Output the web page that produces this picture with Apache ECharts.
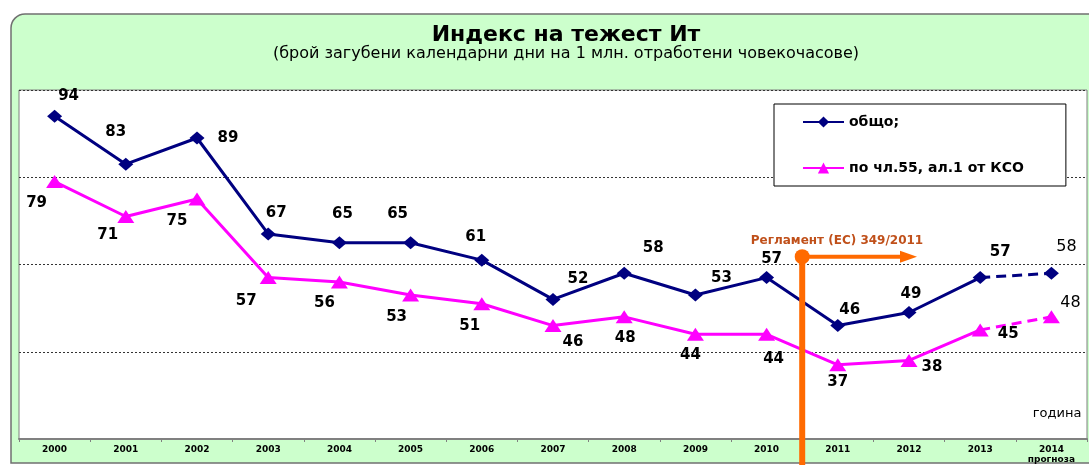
<!DOCTYPE html>
<html>
<head>
<meta charset="utf-8">
<script src="https://cdn.jsdelivr.net/npm/echarts@6/dist/echarts.min.js"></script>
<style>
  html, body { margin: 0; padding: 0; background: #fff; }
  #chart { width: 1089px; height: 465px; }
</style>
</head>
<body>
<div id="chart"></div>
<script>
// години
const years = ['2000', '2001', '2002', '2003', '2004', '2005', '2006', '2007',
  '2008', '2009', '2010', '2011', '2012', '2013', '2014']
const forecastNote = 'прогноза'
// общо
const totalValues = [94, 83, 89, 67, 65, 65, 61, 52, 58, 53, 57, 46, 49, 57, 58]
// по чл.55, ал.1 от КСО
const art55Values = [79, 71, 75, 57, 56, 53, 51, 46, 48, 44, 44, 37, 38, 45, 48]
const yTicks = [20, 40, 60, 80, 100]
const noteText = 'Регламент (ЕС) 349/2011'
const yearLabel = 'година'

// къде стоят етикетите спрямо точката (само стил)
const totalLabelOffsets = [[14, -20], [-10, -32], [31, 0], [8, -21], [3, -29], [-13, -29], [-6, -23],
  [25, -20], [29, -25], [26, -17], [5, -18], [12, -15], [2, -18], [20, -25], [15, -26]]
const art55LabelOffsets = [[-18, 21], [-18, 19], [-20, 22], [-22, 24], [-15, 21], [-14, 22], [-12, 22],
  [20, 17], [1, 21], [-5, 21], [7, 25], [0, 17], [23, 7], [28, 4], [19, -14]]

const lastIdx = years.length - 1
const font = 'DejaVu Sans, Liberation Sans, Arial, sans-serif'

// плътна част (2000-2013) и пунктир (2013-2014)
function solidPart(values, offsets) {
  return values.map((v, i) => i === lastIdx ? '-' : { value: v, label: { offset: offsets[i] } })
}
function dashedPart(values, offsets) {
  return values.map((v, i) => {
    if (i === lastIdx) return { value: v, label: { show: true, offset: offsets[i] } }
    if (i === lastIdx - 1) return { value: v, symbol: 'none', label: { show: false } }
    return '-'
  })
}

const boldLabel = {
  show: true,
  position: 'inside',
  color: '#000',
  fontFamily: font,
  fontWeight: 'bold',
  fontSize: 15
}
const plainLabel = Object.assign({}, boldLabel, { fontWeight: 'normal', fontSize: 16, show: false })

const navy = '#000080'
const pink = '#FF00FF'
const orange = '#FF6A00'

const myChart = echarts.init(document.getElementById('chart'))
const option = {
  animation: false,
  backgroundColor: '#fff',
  textStyle: { fontFamily: font },
  title: {
    text: 'Индекс на тежест Ит',
    subtext: '(брой загубени календарни дни на 1 млн. отработени човекочасове)',
    left: 561,
    textAlign: 'center',
    top: 19,
    itemGap: 0,
    textStyle: { fontSize: 22, fontWeight: 'bold', color: '#000', fontFamily: font },
    subtextStyle: { fontSize: 16, color: '#000', fontFamily: font }
  },
  legend: {
    data: ['общо;', 'по чл.55, ал.1 от КСО'],
    orient: 'vertical',
    left: 774,
    top: 104,
    padding: [11, 42, 11, 28],
    itemGap: 32,
    itemWidth: 41,
    itemHeight: 14,
    backgroundColor: '#fff',
    borderColor: '#000',
    borderWidth: 1,
    borderRadius: 0,
    textStyle: { fontSize: 14, fontWeight: 'bold', color: '#000', fontFamily: font }
  },
  grid: {
    left: 19,
    top: 90,
    right: 2,
    bottom: 25,
    show: true,
    backgroundColor: '#fff',
    borderColor: '#808080',
    borderWidth: 1
  },
  xAxis: {
    type: 'category',
    data: years,
    boundaryGap: true,
    axisLine: { lineStyle: { color: '#808080', width: 2 } },
    axisTick: { show: true, length: 3, lineStyle: { color: '#808080' } },
    axisLabel: {
      color: '#000',
      fontSize: 9,
      fontWeight: 'bold',
      fontFamily: font,
      margin: 6,
      lineHeight: 10,
      formatter: (v, i) => i === lastIdx ? v + '\n' + forecastNote : v
    }
  },
  yAxis: {
    type: 'value',
    min: yTicks[0],
    max: yTicks[yTicks.length - 1],
    interval: yTicks[1] - yTicks[0],
    axisLabel: { show: false },
    axisLine: { show: false },
    axisTick: { show: false },
    splitLine: { lineStyle: { type: [2, 2], color: '#333', width: 1 } }
  },
  series: [
    {
      name: 'общо;',
      type: 'line',
      data: solidPart(totalValues, totalLabelOffsets),
      color: navy,
      lineStyle: { width: 3, color: navy },
      symbol: 'diamond',
      symbolSize: [15, 13],
      label: boldLabel,
      z: 4
    },
    {
      name: 'общо прогноза',
      type: 'line',
      data: dashedPart(totalValues, totalLabelOffsets),
      color: navy,
      lineStyle: { width: 3, color: navy, type: [10, 6] },
      symbol: 'diamond',
      symbolSize: [15, 13],
      label: plainLabel,
      z: 3
    },
    {
      name: 'по чл.55, ал.1 от КСО',
      type: 'line',
      data: solidPart(art55Values, art55LabelOffsets),
      color: pink,
      lineStyle: { width: 3, color: pink },
      symbol: 'triangle',
      symbolSize: [17, 13],
      label: boldLabel,
      z: 4
    },
    {
      name: 'по чл.55 прогноза',
      type: 'line',
      data: dashedPart(art55Values, art55LabelOffsets),
      color: pink,
      lineStyle: { width: 3, color: pink, type: [10, 6] },
      symbol: 'triangle',
      symbolSize: [17, 13],
      label: plainLabel,
      z: 3
    }
  ]
}
myChart.setOption(option)

// зелен фон, „година“ и оранжевата отметка за регламента
const x2010 = myChart.convertToPixel({ xAxisIndex: 0 }, years[10])
const x2011 = myChart.convertToPixel({ xAxisIndex: 0 }, years[11])
const xMark = (x2010 + x2011) / 2
const yMark = myChart.convertToPixel({ yAxisIndex: 0 }, 61.8)
const xEnd = myChart.convertToPixel({ xAxisIndex: 0 }, years[12]) + 8

myChart.setOption({
  graphic: [
    {
      type: 'rect',
      z: -10,
      silent: true,
      shape: { x: 11, y: 14, width: 1100, height: 449, r: [14, 0, 0, 0] },
      style: { fill: '#CCFFCC', stroke: '#707070', lineWidth: 1.5 }
    },
    {
      type: 'text',
      z: 10,
      x: 1057,
      y: 414,
      style: { text: yearLabel, fill: '#000', font: '13px ' + font, align: 'center', verticalAlign: 'middle' }
    },
    {
      type: 'line',
      z: 20,
      shape: { x1: xMark, y1: yMark, x2: xMark, y2: 465 },
      style: { stroke: orange, lineWidth: 6 }
    },
    {
      type: 'line',
      z: 20,
      shape: { x1: xMark, y1: yMark, x2: xEnd - 14, y2: yMark },
      style: { stroke: orange, lineWidth: 4 }
    },
    {
      type: 'polygon',
      z: 20,
      shape: { points: [[xEnd - 17, yMark - 6], [xEnd, yMark], [xEnd - 17, yMark + 6]] },
      style: { fill: orange }
    },
    {
      type: 'circle',
      z: 21,
      shape: { cx: xMark, cy: yMark, r: 7.5 },
      style: { fill: orange }
    },
    {
      type: 'text',
      z: 21,
      x: 837,
      y: yMark - 16,
      style: { text: noteText, fill: '#C0501A', font: 'bold 12px ' + font, align: 'center', verticalAlign: 'middle' }
    }
  ]
})

window.addEventListener('resize', function () {
  myChart.resize()
})
</script>
</body>
</html>
